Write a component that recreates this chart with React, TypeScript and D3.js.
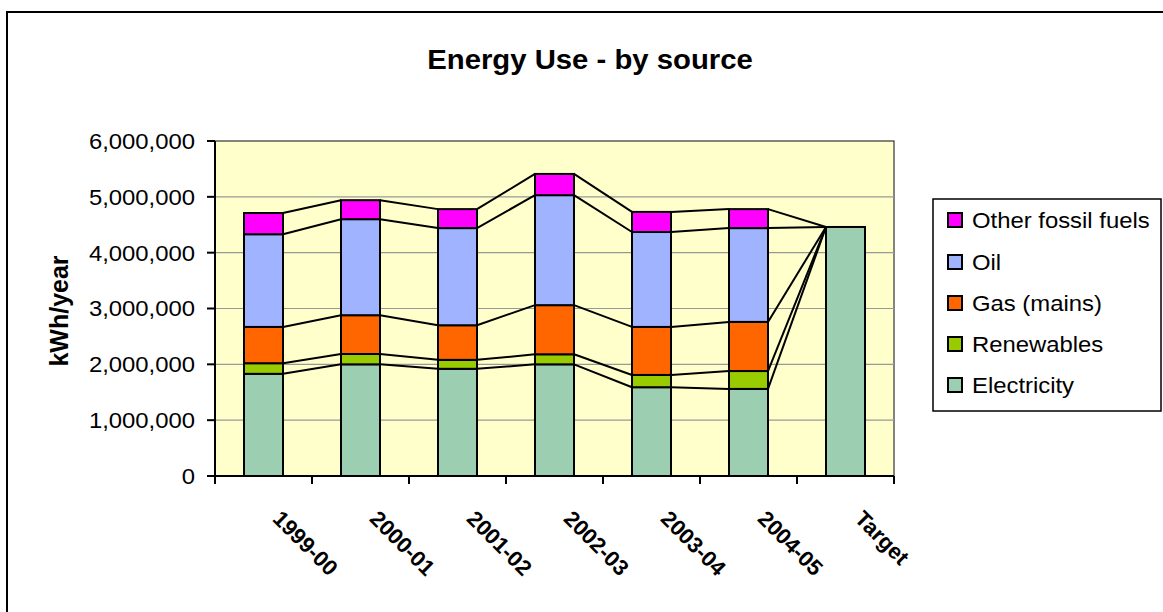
import React from 'react';
import * as d3 from 'd3';

const categories = ['1999-00', '2000-01', '2001-02', '2002-03', '2003-04', '2004-05', 'Target'];
const seriesNames = ['Electricity', 'Renewables', 'Gas (mains)', 'Oil', 'Other fossil fuels'];
const electricity = [1830000, 2000000, 1920000, 2000000, 1590000, 1560000, 4460000];
const renewables = [190000, 185000, 160000, 180000, 220000, 320000, 0];
const gas = [650000, 695000, 620000, 880000, 860000, 880000, 0];
const oil = [1660000, 1720000, 1740000, 1970000, 1700000, 1680000, 0];
const otherFossil = [380000, 340000, 340000, 380000, 360000, 340000, 0];
const yTicks = [0, 1000000, 2000000, 3000000, 4000000, 5000000, 6000000];
const seriesColors = ['#9ccfb1', '#99cc00', '#ff6600', '#a0b3ff', '#ff00ff'];

const W = 1163;
const H = 612;
const SX = 1.085;
const FONT = "'Liberation Sans', Arial, sans-serif";

export default function App() {
  const left = 215, right = 894, top = 141, bottom = 476;
  const x = d3.scaleBand<string>().domain(categories).range([left, right]).padding(0);
  const y = d3.scaleLinear().domain([0, 6000000]).range([bottom, top]);
  const bw = 39;

  const rows = categories.map((c, i) => ({
    cat: c,
    Electricity: electricity[i],
    Renewables: renewables[i],
    'Gas (mains)': gas[i],
    Oil: oil[i],
    'Other fossil fuels': otherFossil[i],
  }));
  const stacked = d3.stack<any>().keys(seriesNames)(rows);
  const cx = (c: string) => (x(c) as number) + x.bandwidth() / 2;

  const legendItems = seriesNames.map((n, i) => ({ name: n, color: seriesColors[i] })).reverse();
  const legendY = [220, 262, 303, 344, 385];

  return (
    <svg width={W} height={H} style={{ position: 'absolute', left: 0, top: 0 }}>
      <rect x={0} y={0} width={W} height={H} fill="#ffffff" />
      {/* outer chart border */}
      <rect x={7} y={12} width={W + 20} height={H + 20} fill="none" stroke="#000" strokeWidth={2} />

      {/* title */}
      <text transform={`translate(590,69) scale(${SX},1)`} textAnchor="middle" fontFamily={FONT}
        fontSize={27} fontWeight="bold" fill="#000">Energy Use - by source</text>

      {/* plot background */}
      <rect x={left} y={top} width={right - left} height={bottom - top} fill="#ffffcc" stroke="#333" strokeWidth={1.2} />

      {/* gridlines */}
      {yTicks.slice(1, -1).map((t) => (
        <line key={t} x1={left} x2={right} y1={y(t)} y2={y(t)} stroke="#999" strokeWidth={1.2} />
      ))}

      {/* bars */}
      {stacked.map((s, si) => (
        <g key={s.key}>
          {s.map((d, i) => {
            const h = y(d[0]) - y(d[1]);
            if (h <= 0) return null;
            return (
              <rect key={i} x={cx(categories[i]) - bw / 2} y={y(d[1])} width={bw} height={h}
                fill={seriesColors[si]} stroke="#000" strokeWidth={2} />
            );
          })}
        </g>
      ))}

      {/* series lines */}
      {stacked.map((s) => (
        <g key={'sl' + s.key}>
          {s.slice(0, -1).map((d, i) => (
            <line key={i}
              x1={cx(categories[i]) + bw / 2} y1={y(d[1])}
              x2={cx(categories[i + 1]) - bw / 2} y2={y(s[i + 1][1])}
              stroke="#000" strokeWidth={2} />
          ))}
        </g>
      ))}

      {/* axes */}
      <line x1={left} x2={left} y1={top} y2={bottom} stroke="#000" strokeWidth={2} />
      <line x1={left - 8} x2={right} y1={bottom} y2={bottom} stroke="#000" strokeWidth={2} />
      {yTicks.map((t) => (
        <g key={'yt' + t}>
          <line x1={left - 8} x2={left} y1={y(t)} y2={y(t)} stroke="#000" strokeWidth={2} />
          <text transform={`translate(195,${y(t)}) scale(${SX},1)`} dy="0.36em" textAnchor="end"
            fontFamily={FONT} fontSize={22} fill="#000">{d3.format(',')(t)}</text>
        </g>
      ))}
      {categories.map((c, i) => (
        <line key={'xt' + i} x1={x(c) as number} x2={x(c) as number} y1={bottom} y2={bottom + 8} stroke="#000" strokeWidth={2} />
      ))}
      <line x1={right} x2={right} y1={bottom} y2={bottom + 8} stroke="#000" strokeWidth={2} />

      {/* x labels */}
      {categories.map((c) => (
        <text key={'xl' + c} transform={`translate(${cx(c) + 8},520) rotate(45)`} textAnchor="start"
          fontFamily={FONT} fontSize={22} fontWeight="bold" fill="#000">{c}</text>
      ))}

      {/* y axis title */}
      <text transform={`translate(68,311) rotate(-90)`} textAnchor="middle" fontFamily={FONT}
        fontSize={25} fontWeight="bold" fill="#000">kWh/year</text>

      {/* legend */}
      <rect x={933} y={199} width={228} height={212} fill="#fff" stroke="#000" strokeWidth={1.5} />
      {legendItems.map((it, i) => (
        <g key={'lg' + it.name}>
          <rect x={948} y={legendY[i] - 7} width={14} height={14} fill={it.color} stroke="#000" strokeWidth={2} />
          <text transform={`translate(972,${legendY[i]}) scale(${SX},1)`} dy="0.36em" fontFamily={FONT}
            fontSize={22} fill="#000">{it.name}</text>
        </g>
      ))}
    </svg>
  );
}
